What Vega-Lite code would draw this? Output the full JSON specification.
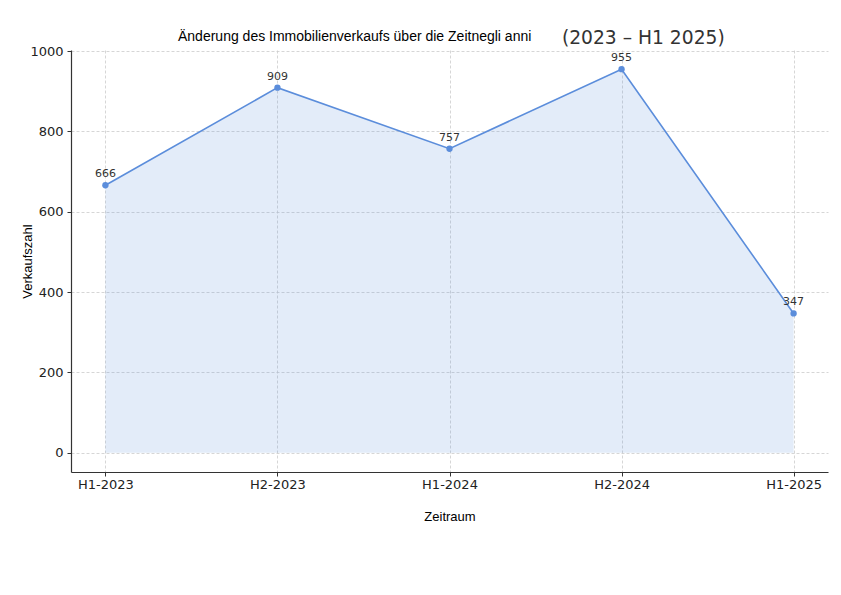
{
  "$schema": "https://vega.github.io/schema/vega-lite/v6.json",
  "width": 757,
  "height": 422,
  "autosize": {"type": "none"},
  "padding": {"left": 71, "top": 50, "right": 13, "bottom": 123},
  "background": "white",
  "title": {
    "text": "Änderung des Immobilienverkaufs über die Zeitnegli anni",
    "subtitle": "\u200b\u00a0\u00a0\u00a0\u00a0\u00a0\u00a0\u00a0\u00a0\u00a0\u00a0\u00a0\u00a0\u00a0\u00a0\u00a0\u00a0\u00a0\u00a0\u00a0\u00a0\u00a0\u00a0\u00a0\u00a0\u00a0\u00a0\u00a0\u00a0\u00a0\u00a0\u00a0\u00a0\u00a0\u00a0\u00a0\u00a0\u00a0\u00a0\u00a0\u00a0\u00a0\u00a0\u00a0\u00a0\u00a0\u00a0\u00a0\u00a0\u00a0\u00a0\u00a0\u00a0\u00a0\u00a0\u00a0\u00a0\u00a0\u00a0\u00a0\u00a0\u00a0\u00a0\u00a0\u00a0\u2009(2023 – H1 2025)",
    "anchor": "start",
    "frame": "group",
    "align": "left",
    "dx": 107,
    "font": "Liberation Sans",
    "fontSize": 14,
    "fontWeight": "normal",
    "color": "#000000",
    "subtitleFont": "DejaVu Sans",
    "subtitleFontSize": 18.7,
    "subtitleColor": "#333333",
    "subtitlePadding": -15,
    "offset": -4
  },
  "config": {
    "view": {"stroke": null},
    "axis": {
      "labelFont": "DejaVu Sans",
      "labelFontSize": 13,
      "labelColor": "#222222",
      "titleFont": "Liberation Sans",
      "titleFontSize": 13,
      "titleFontWeight": "normal",
      "titleColor": "#000000",
      "domainColor": "#333333",
      "domainWidth": 1.2,
      "tickColor": "#333333",
      "tickSize": 4,
      "tickWidth": 1,
      "gridColor": "#cccccc",
      "gridDash": [3, 2],
      "gridWidth": 0.8
    }
  },
  "data": {
    "values": [
      {"Zeitraum": "H1-2023", "Verkaufszahl": 666},
      {"Zeitraum": "H2-2023", "Verkaufszahl": 909},
      {"Zeitraum": "H1-2024", "Verkaufszahl": 757},
      {"Zeitraum": "H2-2024", "Verkaufszahl": 955},
      {"Zeitraum": "H1-2025", "Verkaufszahl": 347}
    ]
  },
  "encoding": {
    "x": {
      "field": "Zeitraum",
      "type": "ordinal",
      "sort": null,
      "scale": {"type": "point", "padding": 0.2},
      "axis": {"labelAngle": 0, "title": "Zeitraum", "titlePadding": 19, "labelPadding": 2, "grid": true}
    },
    "y": {
      "field": "Verkaufszahl",
      "type": "quantitative",
      "scale": {"domain": [-47.75, 1002.75], "nice": false, "zero": false},
      "axis": {"values": [0, 200, 400, 600, 800, 1000], "format": "d", "title": "Verkaufszahl", "titleX": -37, "labelPadding": 4, "grid": true}
    }
  },
  "layer": [
    {
      "mark": {"type": "area", "color": "#5b8ddb", "opacity": 0.17},
      "encoding": {"y2": {"datum": 0}}
    },
    {
      "mark": {"type": "line", "color": "#5b8ddb", "strokeWidth": 1.6}
    },
    {
      "mark": {"type": "point", "filled": true, "color": "#5b8ddb", "size": 40, "opacity": 1}
    },
    {
      "mark": {"type": "text", "dy": -11, "font": "DejaVu Sans", "fontSize": 11, "color": "#333333"},
      "encoding": {"text": {"field": "Verkaufszahl", "type": "quantitative"}}
    }
  ]
}
